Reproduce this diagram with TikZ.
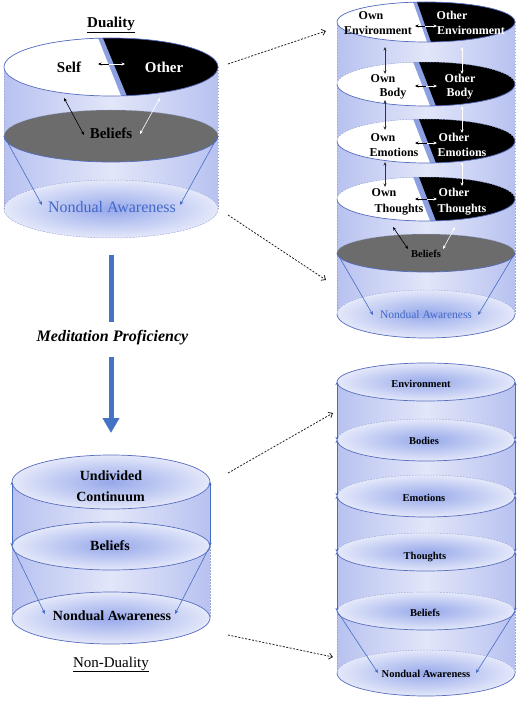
\documentclass[tikz,border=0pt]{standalone}
\usepackage{fontspec}
\setmainfont{Liberation Serif}
\usetikzlibrary{arrows.meta,shadings}
\definecolor{cylA}{RGB}{184,194,240}
\definecolor{cylB}{RGB}{226,230,249}
\definecolor{ellIn}{RGB}{150,168,234}
\definecolor{ellOut}{RGB}{228,232,250}
\definecolor{edge}{RGB}{88,110,190}
\definecolor{arrblue}{RGB}{70,108,196}
\definecolor{bigblue}{RGB}{68,114,196}
\definecolor{strip}{RGB}{140,160,225}
\definecolor{beliefgray}{RGB}{108,108,108}
\definecolor{txtblue}{RGB}{66,104,200}
\newcommand\myfs[1]{\fontsize{#1}{#1}\selectfont}
\tikzset{
  lbl/.style={inner sep=0pt, anchor=base},
  edgeline/.style={draw=edge, line width=0.7pt},
  dashedge/.style={draw=edge!60, line width=0.5pt, dash pattern=on 1.5pt off 1.5pt},
  barrow/.style={line width=0.6pt, {Stealth[length=3.5pt,width=3pt]}-{Stealth[length=3.5pt,width=3pt]}},
  harrow/.style={line width=0.6pt, -{Stealth[length=3.5pt,width=3pt]}},
  bluearrow/.style={arrblue, line width=0.6pt, -{Stealth[length=4pt,width=3.5pt]}},
  sidearrow/.style={arrblue, line width=0.6pt, {Stealth[length=3pt,width=3pt]}-{Stealth[length=3pt,width=3pt]}},
  dotarrow/.style={black!85, line width=0.8pt, dash pattern=on 2pt off 1.5pt, -{Straight Barb[length=3.5pt,width=6pt]}},
  cylbody/.style={left color=cylA,right color=cylA,middle color=cylB},
  ellshade/.style={inner color=ellIn,outer color=ellOut},
}
\begin{document}
\begin{tikzpicture}[x=1pt,y=-1pt]
\useasboundingbox (0,0) rectangle (520,703);
\fill[white] (0,0) rectangle (520,703);

% ================= Top-left cylinder (Duality)
\shade[cylbody] (4,67) -- (4,209) arc[start angle=180,end angle=360,x radius=107pt,y radius=29pt] -- (218,67) arc[start angle=0,end angle=180,x radius=107pt,y radius=29pt] -- cycle;
\shade[ellshade] (111,209) ellipse[x radius=107pt,y radius=29pt];
\draw[dashedge] (111,209) ellipse[x radius=107pt,y radius=29pt];
\draw[dashedge] (4,67) -- (4,209) (218,67) -- (218,209);
\fill[beliefgray] (111,136) ellipse[x radius=107pt,y radius=26pt];
\draw[dashedge] (4,136) arc[start angle=180,end angle=0,x radius=107pt,y radius=26pt];
\draw[edgeline] (4,136) arc[start angle=180,end angle=360,x radius=107pt,y radius=26pt];
\begin{scope}
  \clip (111,67) ellipse[x radius=107pt,y radius=29pt];
  \fill[strip] (0,30) rectangle (230,104);
  \fill[white] (0,30) -- (94.8,30) -- (124.2,104) -- (0,104) -- cycle;
  \fill[black] (99.7,30) -- (230,30) -- (230,104) -- (130.3,104) -- cycle;
\end{scope}
\draw[edgeline] (111,67) ellipse[x radius=107pt,y radius=29pt];

\node[lbl, font=\bfseries\myfs{15}] (duality) at (111,28) {\underline{Duality}};
\node[lbl, font=\bfseries\myfs{15}] (self) at (69,73) {Self};
\node[lbl, font=\bfseries\myfs{15}, text=white] (other) at (164,73) {Other};
\node[lbl, font=\bfseries\myfs{15}] (beliefsA) at (111,139) {Beliefs};
\node[lbl, font=\myfs{16}, text=txtblue] (ndA) at (112,212) {Nondual Awareness};

\coordinate (tlSo) at (98,64); \coordinate (tlSm) at (109,64); \coordinate (tlSe) at (125,64);
\draw[harrow, black] (tlSm) -- (tlSo);
\draw[harrow, white] (tlSm) -- (tlSe);
\coordinate (tlB1) at (64,98); \coordinate (tlB2) at (84,135);
\draw[barrow, black] (tlB1) -- (tlB2);
\coordinate (tlW1) at (160,98); \coordinate (tlW2) at (140,134);
\draw[barrow, white] (tlW1) -- (tlW2);
\coordinate (tlL) at (4,136); \coordinate (tlLn) at (42,205);
\coordinate (tlR) at (218,136); \coordinate (tlRn) at (180,205);
\draw[bluearrow] (tlL) -- (tlLn);
\draw[bluearrow] (tlR) -- (tlRn);

% ================= Meditation arrow
\coordinate (m1) at (111,255); \coordinate (m2) at (111,322);
\coordinate (m3) at (111,357); \coordinate (m4) at (111,433);
\draw[bigblue, line width=5pt] (m1) -- (m2);
\draw[bigblue, line width=5pt, -{Triangle[length=15pt,width=16pt]}] (m3) -- (m4);
\node[lbl, font=\bfseries\itshape\myfs{16}] (medprof) at (112.5,341) {Meditation Proficiency};

% ================= Bottom-left cylinder (Non-Duality)
\shade[cylbody] (12,482) -- (12,618) arc[start angle=180,end angle=360,x radius=99pt,y radius=26pt] -- (210,482) arc[start angle=0,end angle=180,x radius=99pt,y radius=27pt] -- cycle;
\shade[ellshade] (111,618) ellipse[x radius=99pt,y radius=26pt];
\draw[edgeline] (111,618) ellipse[x radius=99pt,y radius=26pt];
\shade[ellshade] (111,546) ellipse[x radius=99pt,y radius=24pt];
\draw[edgeline] (111,546) ellipse[x radius=99pt,y radius=24pt];
\shade[ellshade] (111,482) ellipse[x radius=99pt,y radius=27pt];
\draw[edgeline] (111,482) ellipse[x radius=99pt,y radius=27pt];
\coordinate (blT1) at (12,482); \coordinate (blM1) at (12,546); \coordinate (blB1) at (12,618);
\coordinate (blT2) at (210,482); \coordinate (blM2) at (210,546); \coordinate (blB2) at (210,618);
\draw[sidearrow] (blT1) -- (blM1);
\draw[sidearrow] (blT2) -- (blM2);
\draw[dashedge] (blM1) -- (blB1) (blM2) -- (blB2);
\coordinate (blN1) at (45,614); \coordinate (blN2) at (175,614);
\draw[bluearrow] (blM1) -- (blN1);
\draw[bluearrow] (blM2) -- (blN2);
\node[lbl, font=\bfseries\myfs{14}] (undiv) at (111,480) {Undivided};
\node[lbl, font=\bfseries\myfs{14}] (contin) at (110.5,501) {Continuum};
\node[lbl, font=\bfseries\myfs{14}] (beliefsB) at (110,550) {Beliefs};
\node[lbl, font=\bfseries\myfs{14}] (ndB) at (112,620) {Nondual Awareness};
\node[lbl, font=\myfs{15}] (nondual) at (111,667) {\underline{Non-Duality}};

% ================= Top-right cylinder
\shade[cylbody] (337,22) -- (337,314) arc[start angle=180,end angle=360,x radius=89pt,y radius=24pt] -- (515,22) arc[start angle=0,end angle=180,x radius=89pt,y radius=20pt] -- cycle;
\draw[dashedge] (337,22) -- (337,314) (515,22) -- (515,314);
\shade[ellshade] (426,314) ellipse[x radius=89pt,y radius=24pt];
\draw[dashedge] (337,314) arc[start angle=180,end angle=0,x radius=89pt,y radius=24pt];
\draw[edgeline] (337,314) arc[start angle=180,end angle=360,x radius=89pt,y radius=24pt];
\fill[beliefgray] (426,253) ellipse[x radius=89pt,y radius=19pt];
\draw[dashedge] (337,253) arc[start angle=180,end angle=0,x radius=89pt,y radius=19pt];
\draw[edgeline] (337,253) arc[start angle=180,end angle=360,x radius=89pt,y radius=19pt];
\foreach \c in {84,141,199} {
  \begin{scope}
    \clip (426,\c) ellipse[x radius=89pt,y radius=22pt];
    \fill[strip] (330,\c-30) rectangle (520,\c+30);
    \fill[white] (330,\c-30) -- (409.9,\c-30) -- (433.1,\c+30) -- (330,\c+30) -- cycle;
    \fill[black] (415.9,\c-30) -- (520,\c-30) -- (520,\c+30) -- (439.1,\c+30) -- cycle;
  \end{scope}
  \draw[dashedge] (337,\c) arc[start angle=180,end angle=0,x radius=89pt,y radius=22pt];
  \draw[edgeline] (337,\c) arc[start angle=180,end angle=360,x radius=89pt,y radius=22pt];
}
\begin{scope}
  \clip (426,22) ellipse[x radius=89pt,y radius=20pt];
  \fill[strip] (330,-10) rectangle (520,50);
  \fill[white] (330,-10) -- (408.8,-10) -- (429.8,50) -- (330,50) -- cycle;
  \fill[black] (412.8,-10) -- (520,-10) -- (520,50) -- (433.8,50) -- cycle;
\end{scope}
\draw[edgeline] (426,22) ellipse[x radius=89pt,y radius=20pt];

\tikzset{rt/.style={lbl, font=\bfseries\myfs{12}}, rtw/.style={rt, text=white}}
\node[rt] (own1) at (371,19.5) {Own};
\node[rt] (env1) at (378,35) {Environment};
\node[rtw] (oth1) at (452,19.5) {Other};
\node[rtw] (env2) at (471,35) {Environment};
\node[rt] (own2) at (383,83) {Own};
\node[rt] (body1) at (393,97) {Body};
\node[rtw] (oth2) at (460,83) {Other};
\node[rtw] (body2) at (460,97) {Body};
\node[rt] (own3) at (383,142) {Own};
\node[rt] (emo1) at (394,157) {Emotions};
\node[rtw] (oth3) at (454,142) {Other};
\node[rtw] (emo2) at (462,157) {Emotions};
\node[rt] (own4) at (384,197) {Own};
\node[rt] (tho1) at (399,213) {Thoughts};
\node[rtw] (oth4) at (454,197) {Other};
\node[rtw] (tho2) at (462,213) {Thoughts};
\node[lbl, font=\bfseries\myfs{10.5}] (beliefsC) at (426,257) {Beliefs};
\node[lbl, font=\myfs{11.5}, text=txtblue] (ndC) at (426,318) {Nondual Awareness};

% horizontal split arrows
\foreach \y/\m in {26/425,86/426,143/427,199/427} {
  \draw[harrow, black] (\m,\y) -- (415,\y);
  \draw[harrow, white] (\m,\y) -- (437,\y);
}
% vertical arrows between layers
\coordinate (v1a) at (385,47);  \coordinate (v1b) at (385,74);
\coordinate (v2a) at (385,100); \coordinate (v2b) at (385,130);
\coordinate (v3a) at (385,162); \coordinate (v3b) at (385,187);
\draw[barrow, black!80] (v1a) -- (v1b);
\draw[barrow, black!80] (v2a) -- (v2b);
\draw[barrow, black!80] (v3a) -- (v3b);
\coordinate (w1a) at (462,47);  \coordinate (w1b) at (462,74);
\coordinate (w2a) at (462,106); \coordinate (w2b) at (462,133);
\coordinate (w3a) at (462,162); \coordinate (w3b) at (462,186);
\draw[barrow, white] (w1a) -- (w1b);
\draw[barrow, white] (w2a) -- (w2b);
\draw[barrow, white] (w3a) -- (w3b);
\coordinate (rb1) at (393,227); \coordinate (rb2) at (408,249);
\coordinate (rw1) at (455,227); \coordinate (rw2) at (443,249);
\draw[barrow, black] (rb1) -- (rb2);
\draw[barrow, white] (rw1) -- (rw2);
\coordinate (rtL) at (337,253); \coordinate (rtLn) at (373,315);
\coordinate (rtR) at (515,253); \coordinate (rtRn) at (478,315);
\draw[bluearrow] (rtL) -- (rtLn);
\draw[bluearrow] (rtR) -- (rtRn);

% ================= Bottom-right cylinder
\shade[cylbody] (337,382) -- (337,673) arc[start angle=180,end angle=360,x radius=89pt,y radius=23pt] -- (515,382) arc[start angle=0,end angle=180,x radius=89pt,y radius=19pt] -- cycle;
\foreach \c/\r in {673/23,611/19,552/19,496/21,440/21} {
  \shade[ellshade] (426,\c) ellipse[x radius=89pt,y radius=\r pt];
  \draw[dashedge] (337,\c) arc[start angle=180,end angle=0,x radius=89pt,y radius=\r pt];
  \draw[edgeline] (337,\c) arc[start angle=180,end angle=360,x radius=89pt,y radius=\r pt];
}
\shade[ellshade] (426,382) ellipse[x radius=89pt,y radius=19pt];
\draw[edgeline] (426,382) ellipse[x radius=89pt,y radius=19pt];
\foreach \a/\b in {382/440,440/496,496/552,552/611} {
  \draw[sidearrow] (337,\a) -- (337,\b);
  \draw[sidearrow] (515,\a) -- (515,\b);
}
\coordinate (rbL) at (337,611); \coordinate (rbLb) at (337,673); \coordinate (rbLn) at (378,673);
\coordinate (rbR) at (515,611); \coordinate (rbRb) at (515,673); \coordinate (rbRn) at (476,673);
\draw[dashedge] (rbL) -- (rbLb) (rbR) -- (rbRb);
\draw[bluearrow] (rbL) -- (rbLn);
\draw[bluearrow] (rbR) -- (rbRn);
\tikzset{rb/.style={lbl, font=\bfseries\myfs{10.5}}}
\node[rb] (envB) at (421,387) {Environment};
\node[rb] (bodies) at (424,444) {Bodies};
\node[rb] (emoB) at (424,501) {Emotions};
\node[rb] (thoB) at (425,559) {Thoughts};
\node[rb] (belB) at (425,616) {Beliefs};
\node[rb] (ndD) at (426,677) {Nondual Awareness};

% ================= dotted connectors
\coordinate (d1a) at (228,64);  \coordinate (d1b) at (326,31);
\coordinate (d2a) at (228,215); \coordinate (d2b) at (326,280);
\coordinate (d3a) at (228,473); \coordinate (d3b) at (333,413);
\coordinate (d4a) at (228,635); \coordinate (d4b) at (333,657);
\draw[dotarrow] (d1a) -- (d1b);
\draw[dotarrow] (d2a) -- (d2b);
\draw[dotarrow] (d3a) -- (d3b);
\draw[dotarrow] (d4a) -- (d4b);
\end{tikzpicture}
\end{document}
